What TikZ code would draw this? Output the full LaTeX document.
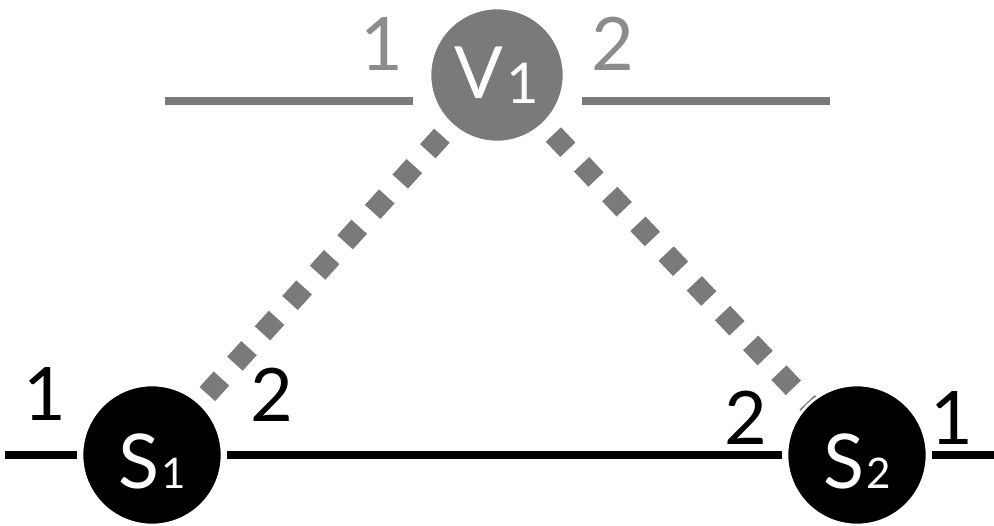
\documentclass[tikz,border=0pt]{standalone}
\usepackage{fontspec}
\setmainfont{Lato}
\usetikzlibrary{positioning}

\definecolor{vgray}{HTML}{7A7A7A}
\definecolor{lgray}{HTML}{8C8C8C}

\tikzset{
  sbox/.style={circle, fill=black, draw=white, line width=1.5pt,
    minimum size=2.8cm, inner sep=0pt, outer sep=0.11cm, text=white},
  vbox/.style={circle, fill=vgray, draw=white, line width=1.5pt,
    minimum size=2.68cm, inner sep=0pt, outer sep=0.34cm, text=white},
  portlbl/.style={inner sep=0pt, font=\fontsize{42}{42}\selectfont},
  wire/.style={line width=5.1pt},
  vwire/.style={line width=4.6pt, vgray},
  virt/.style={vgray, line width=0.42cm, dash pattern=on 0.42cm off 0.40cm}
}

\newcommand{\swname}[2]{\rule{0pt}{38pt}{\fontsize{43}{43}\selectfont #1}\hspace{1pt}{\fontsize{24}{24}\selectfont #2}}
\newcommand{\vswname}[2]{{\fontsize{41}{41}\selectfont #1}\hspace{2pt}\raisebox{-2.8pt}{\fontsize{32}{32}\selectfont #2}}

\begin{document}
\begin{tikzpicture}[x=0.02cm, y=-0.02cm]
  \useasboundingbox (0,0) rectangle (994,525);
  % virtual switch and its ports
  \coordinate (v1a) at (165,101);
  \coordinate (v1b) at (413,101);
  \coordinate (v1c) at (582,101);
  \coordinate (v1d) at (830,101);
  \draw[vwire] (v1a) -- (v1b);
  \draw[vwire] (v1c) -- (v1d);
  % virtual links (drawn below the switches)
  \coordinate (pv1) at (497,75);
  \coordinate (ps1) at (152,455);
  \coordinate (ps2) at (857,455);
  \draw[virt] (pv1) -- (ps1);
  \draw[virt] (pv1) -- (ps2);
  % switches
  \node[vbox] (v1) at (pv1) {\vswname{V}{1}};
  \node[sbox] (s1) at (ps1) {\swname{S}{1}};
  \node[sbox] (s2) at (ps2) {\swname{S}{2}};
  % physical links
  \coordinate (s1w) at (5,455);
  \coordinate (s2e) at (994,455);
  \draw[wire] (s1w) -- (s1);
  \draw[wire] (s1) -- (s2);
  \draw[wire] (s2) -- (s2e);
  % port numbers
  \node[portlbl, lgray] (v1p1) at (382,44) {1};
  \node[portlbl, lgray] (v1p2) at (613,44) {2};
  \node[portlbl] (s1p1) at (45,394) {1};
  \node[portlbl] (s1p2) at (272,395) {2};
  \node[portlbl] (s2p2) at (746,418) {2};
  \node[portlbl] (s2p1) at (952,418) {1};
\end{tikzpicture}
\end{document}
